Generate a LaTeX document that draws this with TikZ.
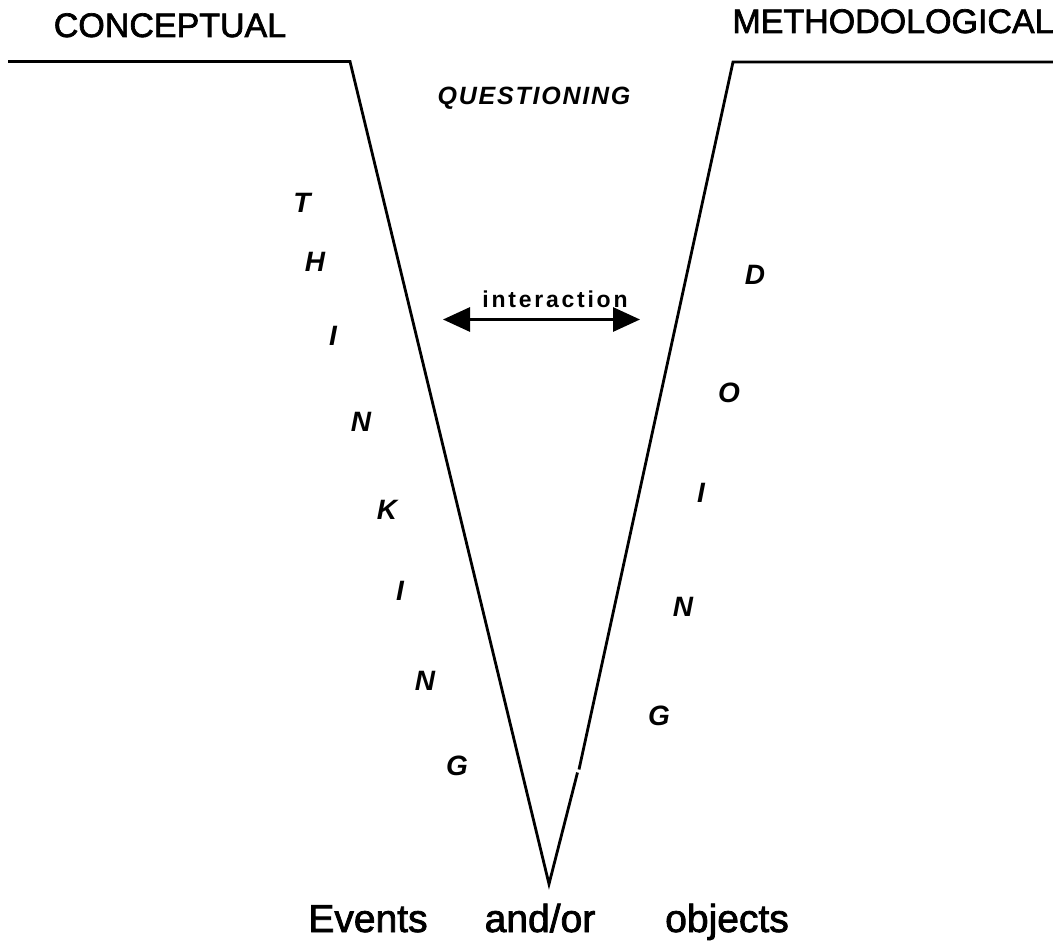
\documentclass[tikz,border=0pt]{standalone}
\usepackage{fontspec}
\setmainfont{Liberation Sans}
\usetikzlibrary{arrows.meta}
\begin{document}
\begin{tikzpicture}[x=1pt,y=-1pt,
  vline/.style={line width=2.8pt, line join=miter},
  heading/.style={font=\fontsize{34}{40}\selectfont\addfontfeature{FakeBold=2}, anchor=base, inner sep=0pt},
  basetext/.style={font=\fontsize{39}{44}\selectfont\addfontfeature{FakeBold=2}, anchor=base, inner sep=0pt},
  question/.style={font=\fontsize{25}{30}\selectfont\bfseries\itshape\addfontfeature{LetterSpace=7}, anchor=base, inner sep=0pt},
  vletter/.style={font=\fontsize{28}{32}\selectfont\bfseries\itshape, anchor=base, inner sep=0pt},
  linklabel/.style={font=\fontsize{23}{28}\selectfont\bfseries\addfontfeature{LetterSpace=12}, anchor=base, inner sep=0pt},
  twoway/.style={line width=3pt, {Triangle[length=27pt,width=24pt]}-{Triangle[length=27pt,width=24pt]}}
]
\useasboundingbox (0,0) rectangle (1053,949);

% the V and its two shoulders
\coordinate (lend) at (8,61.5);
\coordinate (ltop) at (350,61.5);
\coordinate (tip)  at (549,884);
\coordinate (rtop) at (733,62);
\coordinate (rend) at (1053,62);
\coordinate (rbrkA) at (579,769.5);
\coordinate (rbrkB) at (577.5,772.5);

\draw[vline] (lend) -- (ltop) -- (tip) -- (rbrkB);
\draw[vline] (rend) -- (rtop) -- (rbrkA);

% headings
\node[heading] (concept) at (170,37) {CONCEPTUAL};
\node[heading] (method) at (893,33) {METHODOLOGICAL};
\node[question] (quest) at (534,105) {QUESTIONING};

% interaction arrow
\coordinate (iaL) at (443,319.5);
\coordinate (iaR) at (640,319.5);
\draw[twoway] (iaL) -- (iaR);
\node[linklabel] (inter) at (555,308) {interaction};

% left side: THINKING
\node[vletter] (t1) at (302,213) {T};
\node[vletter] (t2) at (315,272) {H};
\node[vletter] (t3) at (333,346) {I};
\node[vletter] (t4) at (361,432) {N};
\node[vletter] (t5) at (387,520) {K};
\node[vletter] (t6) at (400,600) {I};
\node[vletter] (t7) at (425,690) {N};
\node[vletter] (t8) at (457,775) {G};

% right side: DOING
\node[vletter] (d1) at (755,285) {D};
\node[vletter] (d2) at (729,403) {O};
\node[vletter] (d3) at (701,503) {I};
\node[vletter] (d4) at (683,616) {N};
\node[vletter] (d5) at (659,725) {G};

% base of the V
\node[basetext] (ev) at (368,932) {Events};
\node[basetext] (ao) at (540,932) {and/or};
\node[basetext] (ob) at (727,932) {objects};
\end{tikzpicture}
\end{document}
